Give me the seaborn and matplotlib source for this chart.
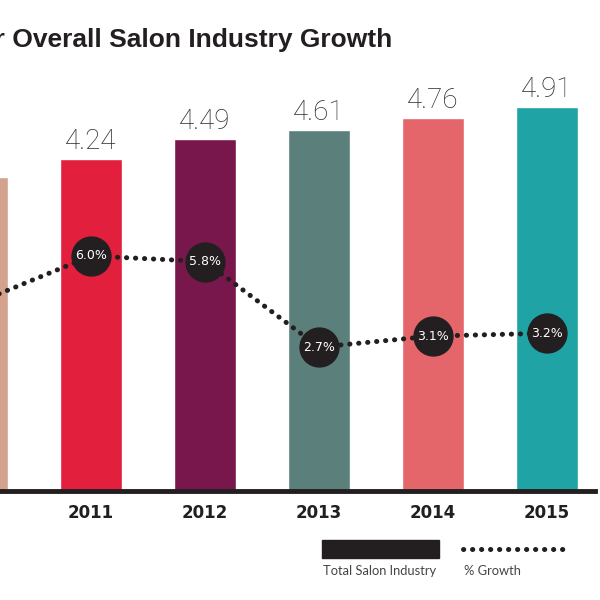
import numpy as np
import pandas as pd
import seaborn as sns
import matplotlib.pyplot as plt
from matplotlib.patches import Rectangle
from matplotlib.lines import Line2D

years = ["2010", "2011", "2012", "2013", "2014", "2015"]
totals = [4.01, 4.24, 4.49, 4.61, 4.76, 4.91]
growth = [4.3, 6.0, 5.8, 2.7, 3.1, 3.2]
growth_labels = ["4.3%", "6.0%", "5.8%", "2.7%", "3.1%", "3.2%"]
bar_colors = ["#D4A28C", "#E21F3C", "#78174B", "#5B7F7B", "#E4666B", "#20A3A4"]

df = pd.DataFrame({"year": years, "total": totals})

sns.set_style("white")
plt.rcParams['font.family'] = ['DejaVu Sans']

fig = plt.figure(figsize=(6, 6), dpi=100)
ax = fig.add_axes([0, 109 / 600, 595 / 600, 431 / 600])

sns.barplot(x="year", y="total", hue="year", data=df, palette=bar_colors,
            width=0.544, legend=False, ax=ax, saturation=1)
ax.set_xlim(0.2018, 5.421)
ax.set_ylim(0, 5.504)
ax.set_xlabel("")
ax.set_ylabel("")
ax.set_yticks([])
for s in ["top", "left", "right"]:
    ax.spines[s].set_visible(False)
ax.spines["bottom"].set_linewidth(3.5)
ax.spines["bottom"].set_color("#231F20")
ax.tick_params(axis="x", length=0, pad=9)
for lab in ax.get_xticklabels():
    lab.set_fontweight("bold")
    lab.set_fontsize(12)
    lab.set_color("#231F20")

for i, v in enumerate(totals):
    ax.text(i, v + 0.05, f"{v:.2f}", ha="center", va="bottom", fontsize=20,
            family=["Roboto", "DejaVu Sans"], fontweight="light", color="#2a2a2a")

ax2 = ax.twinx()
ax2.set_ylim(-2.514, 13.10)
ax2.set_yticks([])
for s in ["top", "left", "right", "bottom"]:
    ax2.spines[s].set_visible(False)
xpos = np.arange(len(years))
dots = (0, (0.05, 1.75))
ax2.plot(xpos, growth, color="#231F20", linewidth=3.6,
         linestyle=dots, dash_capstyle="round", zorder=2)
ax2.plot(xpos, growth, "o", color="#231F20", markersize=28, linestyle="none", zorder=3)
for i, g in enumerate(growth):
    ax2.text(i, g, growth_labels[i], ha="center", va="center", fontsize=9,
             color="white", zorder=4)

fig.text(392 / 600, 1 - 40 / 600, "5-Year Overall Salon Industry Growth",
         ha="right", va="center", fontsize=19, fontweight="bold",
         family=["Liberation Sans", "DejaVu Sans"], color="#231F20")

# legend
fig.add_artist(Rectangle((322 / 600, 1 - 558 / 600), 117 / 600, 18 / 600,
                         transform=fig.transFigure, color="#231F20"))
fig.add_artist(Line2D([463 / 600, 563 / 600], [1 - 549 / 600, 1 - 549 / 600],
                      transform=fig.transFigure, color="#231F20", linewidth=3.6,
                      linestyle=dots, dash_capstyle="round"))
fig.text(323 / 600, 1 - 571 / 600, "Total Salon Industry", ha="left", va="center",
         fontsize=9.3, color="#444444", family=["Lato", "DejaVu Sans"])
fig.text(464 / 600, 1 - 571 / 600, "% Growth", ha="left", va="center",
         fontsize=9.3, color="#444444", family=["Lato", "DejaVu Sans"])

fig.savefig("out.png", dpi=100)
